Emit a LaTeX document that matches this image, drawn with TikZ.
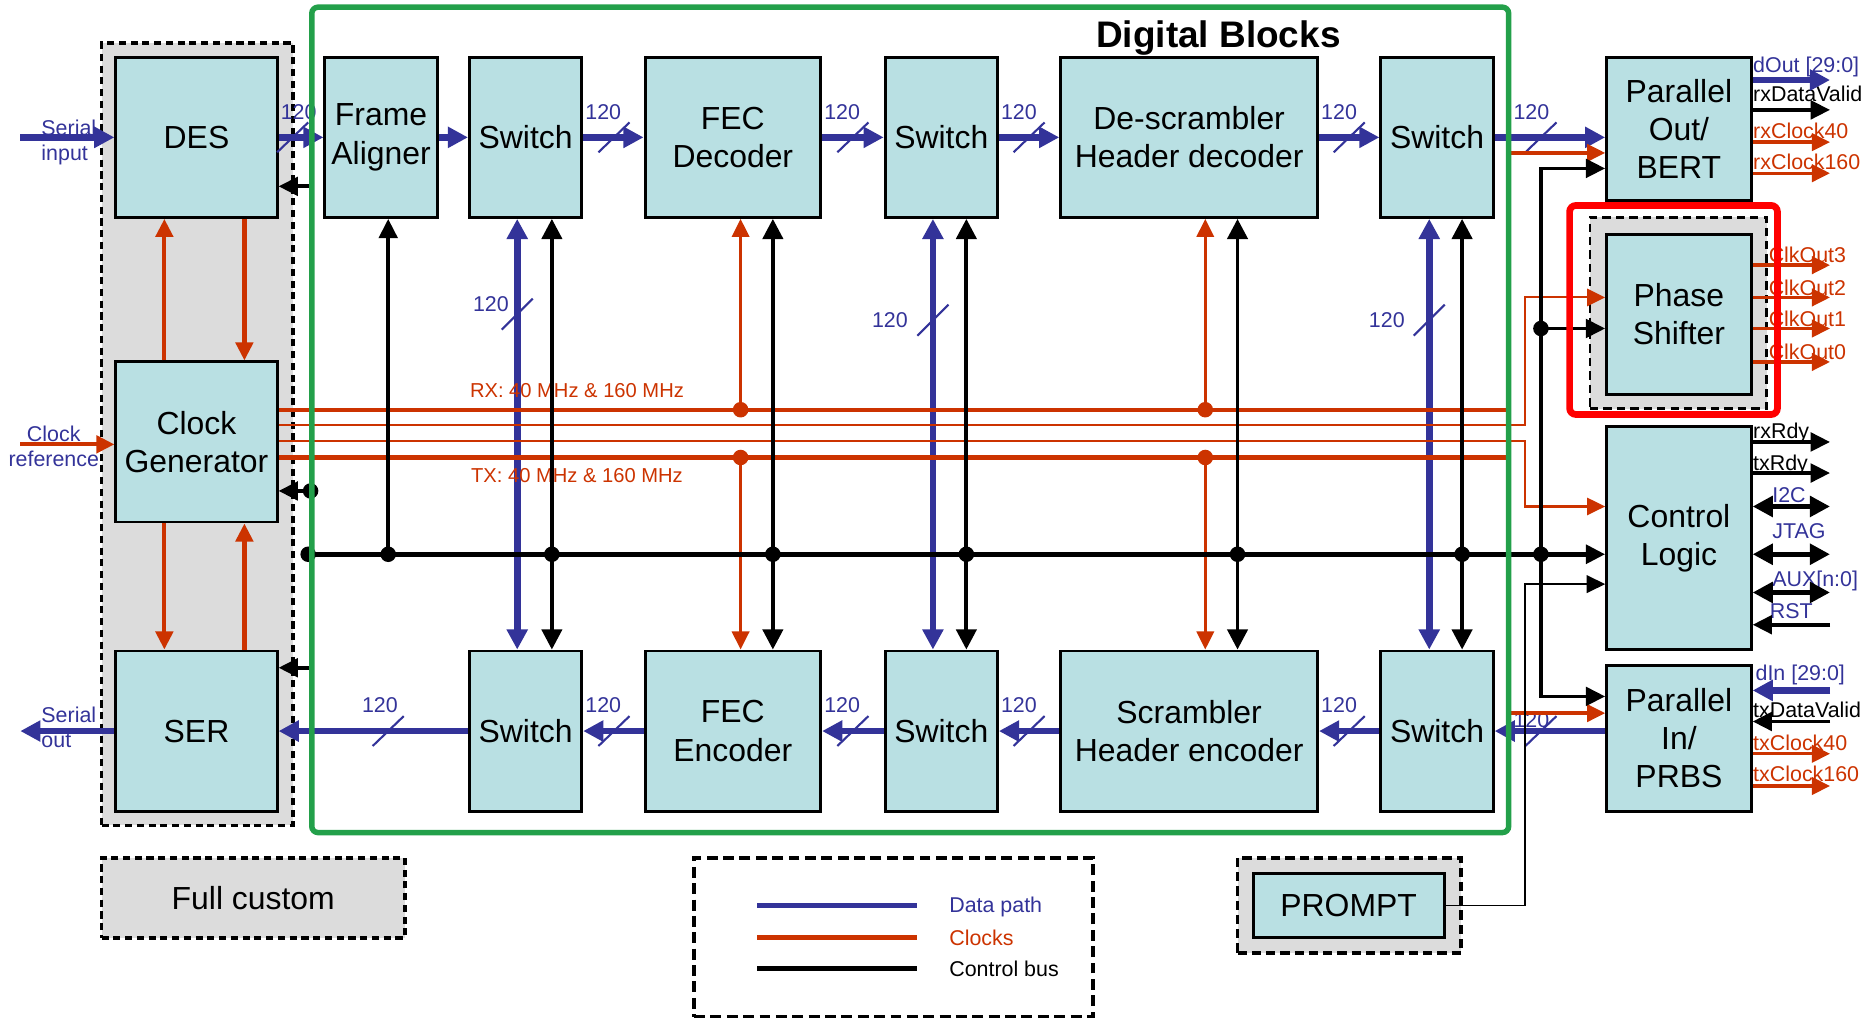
\documentclass[tikz,border=0pt]{standalone}
\usepackage{fontspec}
\setmainfont{Liberation Sans}
\usepackage{tikz}
\usetikzlibrary{arrows.meta,positioning,calc}
\definecolor{gbtblue}{HTML}{333399}
\definecolor{gbtclk}{HTML}{CC3300}
\definecolor{gbtcell}{HTML}{B9E0E3}
\definecolor{gbtgrey}{HTML}{DCDCDC}
\definecolor{gbtgreen}{HTML}{23A04A}
\definecolor{gbtred}{HTML}{FF0000}
\newcommand{\cellfont}{\fontsize{7.6}{9.1}\selectfont}
\newcommand{\sigfont}{\fontsize{5.1}{6}\selectfont}
\newcommand{\busfont}{\fontsize{4.8}{5.5}\selectfont}
\tikzset{
  cell/.style={draw, line width=0.7pt, fill=gbtcell, align=center, font=\cellfont, inner sep=1pt},
  nar/.style={cell, minimum width=0.94cm, minimum height=1.34cm},
  grp/.style={draw, line width=0.9pt, dash pattern=on 1.7pt off 1.1pt, fill=gbtgrey},
  grp2/.style={draw, line width=0.9pt, dash pattern=on 2.6pt off 1.3pt},
  dat/.style={gbtblue, line width=1.6pt, -{Triangle[length=4.8pt,width=4.8pt]}},
  dat2/.style={gbtblue, line width=1.6pt, {Triangle[length=4.8pt,width=4.8pt]}-{Triangle[length=4.8pt,width=4.8pt]}},
  ctl/.style={line width=0.9pt, -{Triangle[length=4.6pt,width=4.4pt]}},
  ctl2/.style={line width=1.3pt, {Triangle[length=4.8pt,width=4.8pt]}-{Triangle[length=4.8pt,width=4.8pt]}},
  ctlt/.style={line width=0.45pt, -{Triangle[length=4.4pt,width=4.2pt]}},
  clk/.style={gbtclk, line width=0.8pt, -{Triangle[length=4.3pt,width=4.1pt]}},
  clkt/.style={gbtclk, line width=0.5pt, -{Triangle[length=4.3pt,width=4.1pt]}},
  clkbus/.style={gbtclk, line width=1pt},
  wsl/.style={gbtblue, line width=0.5pt},
  wl/.style={font=\sigfont, text=gbtblue, inner sep=0pt},
  sig/.style={font=\sigfont, inner sep=0pt, anchor=base west},
}
\begin{document}
\begin{tikzpicture}[font=\cellfont]
\useasboundingbox (0,0) rectangle (15.68,8.54);

\node[grp, minimum width=1.60cm, minimum height=6.55cm] (fcol) at (1.65,4.905) {};
\node[grp, minimum width=2.54cm, minimum height=0.67cm] (fcl) at (2.12,1.025) {Full custom};
\node[grp2, minimum width=3.34cm, minimum height=1.33cm] (lgd) at (7.48,0.695) {};
\node[grp, dash pattern=on 2.2pt off 1.2pt, minimum width=1.87cm, minimum height=0.80cm] (prg) at (11.295,0.96) {};
\node[grp, line width=0.65pt, dash pattern=on 2pt off 1.2pt, minimum width=1.48cm, minimum height=1.60cm] (psg) at (14.05,5.92) {};

\node[cell, minimum width=1.35cm, minimum height=1.34cm] (des) at (1.645,7.39) {DES};
\node[cell, minimum width=1.35cm, minimum height=1.34cm] (cg) at (1.645,4.84) {Clock\\Generator};
\node[cell, minimum width=1.35cm, minimum height=1.34cm] (ser) at (1.645,2.42) {SER};

\node[nar] (fa) at (3.19,7.39) {Frame\\Aligner};
\node[nar] (sw1) at (4.40,7.39) {Switch};
\node[cell, minimum width=1.47cm, minimum height=1.34cm] (fecd) at (6.135,7.39) {FEC\\Decoder};
\node[nar] (sw2) at (7.88,7.39) {Switch};
\node[cell, minimum width=2.15cm, minimum height=1.34cm] (dsc) at (9.955,7.39) {De-scrambler\\Header decoder};
\node[nar] (sw3) at (12.03,7.39) {Switch};

\node[nar] (sw4) at (4.40,2.42) {Switch};
\node[cell, minimum width=1.47cm, minimum height=1.34cm] (fece) at (6.135,2.42) {FEC\\Encoder};
\node[nar] (sw5) at (7.88,2.42) {Switch};
\node[cell, minimum width=2.15cm, minimum height=1.34cm] (scr) at (9.955,2.42) {Scrambler\\Header encoder};
\node[nar] (sw6) at (12.03,2.42) {Switch};

\node[cell, minimum width=1.21cm, minimum height=1.20cm] (po) at (14.055,7.46) {Parallel\\Out/\\BERT};
\node[cell, minimum width=1.21cm, minimum height=1.34cm] (ps) at (14.055,5.91) {Phase\\Shifter};
\node[cell, minimum width=1.21cm, minimum height=1.87cm] (cl) at (14.055,4.035) {Control\\Logic};
\node[cell, minimum width=1.21cm, minimum height=1.22cm] (pi) at (14.055,2.36) {Parallel\\In/\\PRBS};
\node[cell, minimum width=1.60cm, minimum height=0.54cm] (prm) at (11.29,0.96) {PROMPT};

\node[font=\bfseries\fontsize{8.8}{10}\selectfont] (ttl) at (10.2,8.22) {Digital Blocks};

\node[wl, align=left, anchor=west] (sin) at (0.34,7.35) {Serial\\input};
\node[wl, align=left, anchor=west] (sout) at (0.34,2.45) {Serial\\out};
\node[wl, align=center] (ckref) at (0.45,4.80) {Clock\\reference};

\foreach \x/\lx [count=\i] in {2.45/2.50,5.14/5.05,7.14/7.05,8.615/8.53,11.295/11.21,12.90/12.82} {
  \draw[wsl] (\x-0.13,7.265) -- (\x+0.13,7.515);
  \node[wl] (wt\i) at (\lx,7.60) {120};
}
\foreach \x/\lx/\ly [count=\i] in {3.25/3.18/2.64,5.14/5.05/2.64,7.14/7.05/2.64,8.615/8.53/2.64,11.295/11.21/2.64,12.90/12.82/2.51} {
  \draw[wsl] (\x-0.13,2.295) -- (\x+0.13,2.545);
  \node[wl] (wb\i) at (\lx,\ly) {120};
}
\foreach \x/\y/\lx/\ly [count=\i] in {4.33/5.91/4.11/5.99,7.81/5.86/7.45/5.86,11.965/5.86/11.61/5.86} {
  \draw[wsl] (\x-0.13,\y-0.13) -- (\x+0.13,\y+0.13);
  \node[wl] (wv\i) at (\lx,\ly) {120};
}

\draw[dat] (0.17,7.39) -- (des);
\draw[dat] (des) -- (fa);
\draw[dat] (fa) -- (sw1);
\draw[dat] (sw1) -- (fecd);
\draw[dat] (fecd) -- (sw2);
\draw[dat] (sw2) -- (dsc);
\draw[dat] (dsc) -- (sw3);
\draw[dat] (sw3) -- (sw3 -| po.west);
\draw[dat] (pi.west |- sw6) -- (sw6);
\draw[dat] (sw6) -- (scr);
\draw[dat] (scr) -- (sw5);
\draw[dat] (sw5) -- (fece);
\draw[dat] (fece) -- (sw4);
\draw[dat] (sw4) -- (ser);
\draw[dat] (ser) -- (0.17,2.42);
\foreach \x in {4.33,7.81,11.965}
  \draw[dat2] (\x,0 |- fa.south) -- (\x,0 |- sw4.north);

\draw[clk, line width=1pt] (0.17,4.82) -- (cg.west |- 0,4.82);
\draw[clk, line width=1pt] (1.376,0 |- cg.north) -- (1.376,0 |- des.south);
\draw[clk, line width=1pt] (2.046,0 |- des.south) -- (2.046,0 |- cg.north);
\draw[clk, line width=1pt] (1.376,0 |- cg.south) -- (1.376,0 |- ser.north);
\draw[clk, line width=1pt] (2.046,0 |- ser.north) -- (2.046,0 |- cg.south);

\node[font=\busfont, text=gbtclk, inner sep=0pt] (rxl) at (4.83,5.27) {RX: 40 MHz \& 160 MHz};
\node[font=\busfont, text=gbtclk, inner sep=0pt] (txl) at (4.83,4.56) {TX: 40 MHz \& 160 MHz};
\draw[clkbus] (cg.east |- 0,5.11) -- (12.63,5.11);
\draw[clkbus] (cg.east |- 0,4.71) -- (12.63,4.71);
\draw[clkt] (cg.east |- 0,4.98) -| (12.77,6.05) -- (ps.west |- 0,6.05);
\draw[clkt] (cg.east |- 0,4.85) -| (12.77,4.30) -- (cl.west |- 0,4.30);
\foreach \x in {6.20,10.09} {
  \draw[clk, line width=0.7pt] (\x,5.11) -- (\x,0 |- fa.south);
  \draw[clk, line width=0.7pt] (\x,4.71) -- (\x,0 |- sw4.north);
  \fill[gbtclk] (\x,5.11) circle (0.065);
  \fill[gbtclk] (\x,4.71) circle (0.065);
}

\draw[line width=0.9pt] (2.60,6.98) -- (2.60,2.95);
\draw[ctl] (2.60,6.98) -- (des.east |- 0,6.98);
\draw[ctl] (2.60,4.43) -- (cg.east |- 0,4.43);
\draw[ctl] (2.60,2.95) -- (ser.east |- 0,2.95);
\fill (2.60,4.43) circle (0.065);
\draw[ctl, line width=1.1pt] (2.58,3.90) -- (cl.west |- 0,3.90);
\draw[ctl] (3.25,3.90) -- (3.25,0 |- fa.south);
\foreach \x in {4.62,6.47,8.09,10.36,12.24}
  \draw[ctl2, line width=0.9pt] (\x,0 |- fa.south) -- (\x,0 |- sw4.north);
\foreach \x in {2.58,3.25,4.62,6.47,8.09,10.36,12.24,12.90}
  \fill (\x,3.90) circle (0.065);

\draw[clk] (12.65,7.26) -- (po.west |- 0,7.26);
\draw[clk] (12.65,2.57) -- (pi.west |- 0,2.57);
\draw[ctl] (12.90,3.90) |- (po.west |- 0,7.13);
\draw[ctl] (12.90,3.90) |- (pi.west |- 0,2.71);
\draw[ctl] (12.90,5.79) -- (ps.west |- 0,5.79);
\fill (12.90,5.79) circle (0.065);
\draw[ctlt] (prm.east) -| (12.77,3.65) -- (cl.west |- 0,3.65);

\node[sig, text=gbtblue] (dout) at (14.67,7.93) {dOut [29:0]};
\node[sig] (rxdv) at (14.67,7.69) {rxDataValid};
\node[sig, text=gbtclk] (rxc40) at (14.67,7.38) {rxClock40};
\node[sig, text=gbtclk] (rxc160) at (14.67,7.12) {rxClock160};
\draw[dat] (po.east |- 0,7.87) -- (15.32,7.87);
\draw[ctl] (po.east |- 0,7.62) -- (15.32,7.62);
\draw[clk] (po.east |- 0,7.35) -- (15.32,7.35);
\draw[clk] (po.east |- 0,7.09) -- (15.32,7.09);

\foreach \y/\n in {6.32/3,6.05/2,5.79/1,5.51/0} {
  \node[sig, text=gbtclk] (co\n) at (14.80,\y+0.02) {ClkOut\n};
  \draw[clk] (ps.east |- 0,\y) -- (15.32,\y);
}

\node[sig] (rxr) at (14.67,4.87) {rxRdy};
\node[sig] (txr) at (14.67,4.605) {txRdy};
\node[sig, text=gbtblue] (i2c) at (14.83,4.33) {I2C};
\node[sig, text=gbtblue] (jtag) at (14.83,4.03) {JTAG};
\node[sig, text=gbtblue] (aux) at (14.83,3.63) {AUX[n:0]};
\node[sig, text=gbtblue] (rst) at (14.81,3.36) {RST};
\draw[ctl] (cl.east |- 0,4.84) -- (15.32,4.84);
\draw[ctl] (cl.east |- 0,4.58) -- (15.32,4.58);
\draw[ctl2] (cl.east |- 0,4.30) -- (15.32,4.30);
\draw[ctl2] (cl.east |- 0,3.90) -- (15.32,3.90);
\draw[ctl2] (cl.east |- 0,3.58) -- (15.32,3.58);
\draw[ctl] (15.32,3.31) -- (cl.east |- 0,3.31);

\node[sig, text=gbtblue] (din) at (14.69,2.84) {dIn [29:0]};
\node[sig] (txdv) at (14.67,2.53) {txDataValid};
\node[sig, text=gbtclk] (txc40) at (14.67,2.26) {txClock40};
\node[sig, text=gbtclk] (txc160) at (14.67,2.00) {txClock160};
\draw[dat] (15.32,2.76) -- (pi.east |- 0,2.76);
\draw[ctl] (15.32,2.50) -- (pi.east |- 0,2.50);
\draw[clk] (pi.east |- 0,2.23) -- (15.32,2.23);
\draw[clk] (pi.east |- 0,1.96) -- (15.32,1.96);

\draw[gbtblue, line width=1.1pt] (6.34,0.96) -- (7.68,0.96);
\draw[gbtclk, line width=1.1pt] (6.34,0.69) -- (7.68,0.69);
\draw[line width=1.1pt] (6.34,0.43) -- (7.68,0.43);
\node[font=\sigfont, text=gbtblue, anchor=west, inner sep=0pt] (lg1) at (7.94,0.95) {Data path};
\node[font=\sigfont, text=gbtclk, anchor=west, inner sep=0pt] (lg2) at (7.94,0.69) {Clocks};
\node[font=\sigfont, anchor=west, inner sep=0pt] (lg3) at (7.94,0.43) {Control bus};

\node[draw=gbtgreen, line width=1.3pt, rounded corners=1.5pt, minimum width=10.02cm, minimum height=6.91cm] (dig) at (7.62,5.025) {};
\node[draw=gbtred, line width=1.6pt, rounded corners=1.5pt, minimum width=1.74cm, minimum height=1.75cm] (psr) at (14.01,5.945) {};
\end{tikzpicture}
\end{document}
